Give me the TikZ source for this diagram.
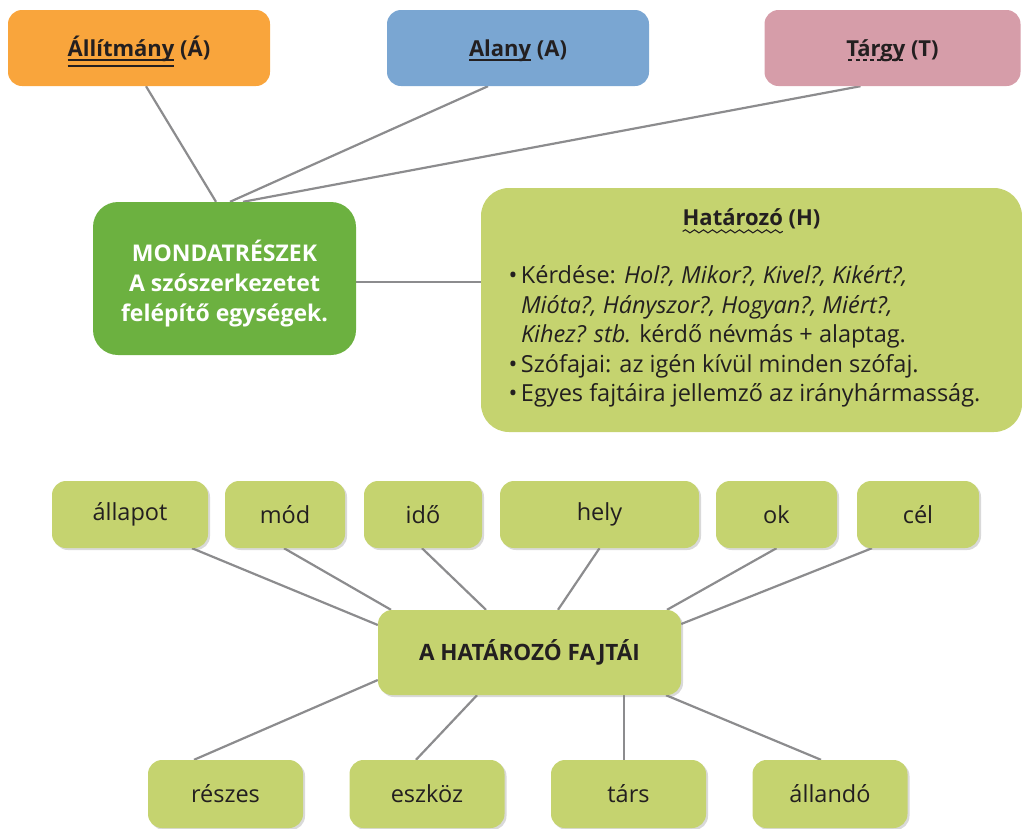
\documentclass[tikz,border=0pt]{standalone}
\usepackage{fontspec}
\setmainfont{Open Sans}
\usetikzlibrary{shadows,backgrounds,decorations.pathmorphing}

\definecolor{narancs}{RGB}{249,165,60}
\definecolor{kek}{RGB}{122,166,210}
\definecolor{rozsa}{RGB}{214,157,169}
\definecolor{sotetzold}{RGB}{108,177,64}
\definecolor{vilagoszold}{RGB}{197,211,111}
\definecolor{szoveg}{RGB}{35,31,32}
\definecolor{vonalszin}{RGB}{140,140,142}

\tikzset{
  doboz/.style={rounded corners=14pt, inner sep=0pt, text=szoveg,
    font=\fontsize{23.5}{29.5}\selectfont},
  cimdoboz/.style={doboz, minimum height=76pt, text height=17pt, text depth=0pt,
    font=\fontsize{22}{29}\selectfont\bfseries},
  kisdoboz/.style={doboz, fill=vilagoszold, minimum height=67pt,
    drop shadow={opacity=0.3, shadow xshift=2pt, shadow yshift=-2pt}},
  vonal/.style={draw=vonalszin, line width=2.2pt}
}
% alahuzasok
\newdimen\szel
\newcommand{\egyvonal}[1]{\leavevmode\setbox0\hbox{#1}\rlap{\copy0}\smash{\rule[-4pt]{\wd0}{1.3pt}}}
\newcommand{\ketvonal}[1]{\leavevmode\setbox0\hbox{#1}\rlap{\copy0}\rlap{\smash{\rule[-4pt]{\wd0}{1.3pt}}}\smash{\rule[-10pt]{\wd0}{1.3pt}}}
\newcommand{\szaggatott}[1]{\leavevmode\setbox0\hbox{#1}\rlap{\copy0}\smash{\hbox to\wd0{\xleaders\hbox to 7pt{\hss\rule[-4pt]{4pt}{1.3pt}\hss}\hfill}}}
\newcommand{\hullamos}[1]{\leavevmode\setbox0\hbox{#1}\szel=\wd0\rlap{\copy0}\rlap{\tikz[overlay,x=1pt,y=1pt,sharp corners]
  \draw[szoveg, line width=1.1pt, decorate, decoration={snake, amplitude=1.5pt, segment length=9pt}]
  (0,-5.5) -- (\the\szel,-5.5);}\hbox to\szel{}}
\newcommand{\pont}{\makebox[12.5pt][l]{\textbullet}}

\begin{document}
\begin{tikzpicture}[x=1pt,y=-1pt]
\useasboundingbox (0,0) rectangle (1022,828);

% mondatreszek
\node[cimdoboz, fill=narancs, minimum width=262pt] (allitmany) at (139,48)
  {\ketvonal{Állítmány} (Á)};
\node[cimdoboz, fill=kek, minimum width=262pt] (alany) at (518,48)
  {\egyvonal{Alany} (A)};
\node[cimdoboz, fill=rozsa, minimum width=256pt] (targy) at (892.5,48)
  {\szaggatott{Tárgy} (T)};
\node[doboz, fill=sotetzold, rounded corners=25pt, text=white,
  minimum width=263pt, minimum height=153pt, font=\fontsize{23}{30}\selectfont\bfseries]
  (mondat) at (224.5,278.5) {\begin{minipage}[c][153pt][c]{263pt}\centering
  \vspace{10pt}MONDATRÉSZEK\\A szószerkezetet\\felépítő egységek.\end{minipage}};
\node[doboz, fill=vilagoszold, rounded corners=28pt, minimum width=541pt, minimum height=244pt]
  (hatarozo) at (751.5,310) {\begin{minipage}[c][202pt][t]{486pt}
  \centering{\bfseries\fontsize{22}{29}\selectfont\hullamos{Határozó} (H)}\par\vspace{28.5pt}
  \raggedright\hangindent=12.5pt\hangafter=1
  \pont Kérdése: \textit{Hol?, Mikor?, Kivel?, Kikért?,}\newline
  \textit{Mióta?, Hányszor?, Hogyan?, Miért?,}\newline
  \textit{Kihez? stb.} kérdő névmás + alaptag.\par
  \pont Szófajai: az igén kívül minden szófaj.\par
  \pont Egyes fajtáira jellemző az irányhármasság.\par
  \end{minipage}};

% a hatarozo fajtai
\node[kisdoboz, minimum width=303pt, minimum height=85pt, font=\fontsize{22.5}{29}\selectfont\bfseries]
  (fajtai) at (529.5,652.5) {A HATÁROZÓ FAJTÁI};
\foreach \nev/\felirat/\x/\w in {allapot/állapot/130/156, mod/mód/285/120, ido/idő/423/118,
  hely/hely/599.5/199, ok/ok/776.5/121, cel/cél/918/122} {
  \node[kisdoboz, minimum width=\w pt] (\nev) at (\x,514.5) {\felirat};
}
\foreach \nev/\felirat/\x in {reszes/részes/225.5, eszkoz/eszköz/427, tars/társ/628.5,
  allando/állandó/830} {
  \node[kisdoboz, minimum width=155pt, minimum height=68pt] (\nev) at (\x,794) {\felirat};
}

\begin{scope}[on background layer]
\draw[vonal] ([xshift=7pt]allitmany.south) -- ([xshift=-8.5pt]mondat.north);
\draw[vonal] ([xshift=-30pt]alany.south) -- ([xshift=5.5pt]mondat.north);
\draw[vonal] ([xshift=-32pt]targy.south) -- ([xshift=18.5pt]mondat.north);
\draw[vonal] ([yshift=-3.5pt]mondat.east) -- ([yshift=-3.5pt]mondat.east -| hatarozo.west);

\draw[vonal] ([xshift=62pt]allapot.south) -- ([yshift=27.5pt]fajtai.west);
\draw[vonal] ([xshift=-1pt]mod.south) -- ([xshift=-138.5pt]fajtai.north);
\draw[vonal] ([xshift=-1pt]ido.south) -- ([xshift=-43.5pt]fajtai.north);
\draw[vonal] (hely.south) -- ([xshift=28.5pt]fajtai.north);
\draw[vonal] (ok.south) -- ([xshift=137.5pt]fajtai.north);
\draw[vonal] ([xshift=-46pt]cel.south) -- ([yshift=28.5pt]fajtai.east);
\draw[vonal] ([yshift=-27.5pt]fajtai.west) -- ([xshift=-31.5pt]reszes.north);
\draw[vonal] ([xshift=-52.5pt]fajtai.south) -- ([xshift=-11pt]eszkoz.north);
\draw[vonal] ([xshift=94.5pt]fajtai.south) -- ([xshift=-4.5pt]tars.north);
\draw[vonal] ([xshift=136.5pt]fajtai.south) -- ([xshift=-9pt]allando.north);
\end{scope}
\end{tikzpicture}
\end{document}
